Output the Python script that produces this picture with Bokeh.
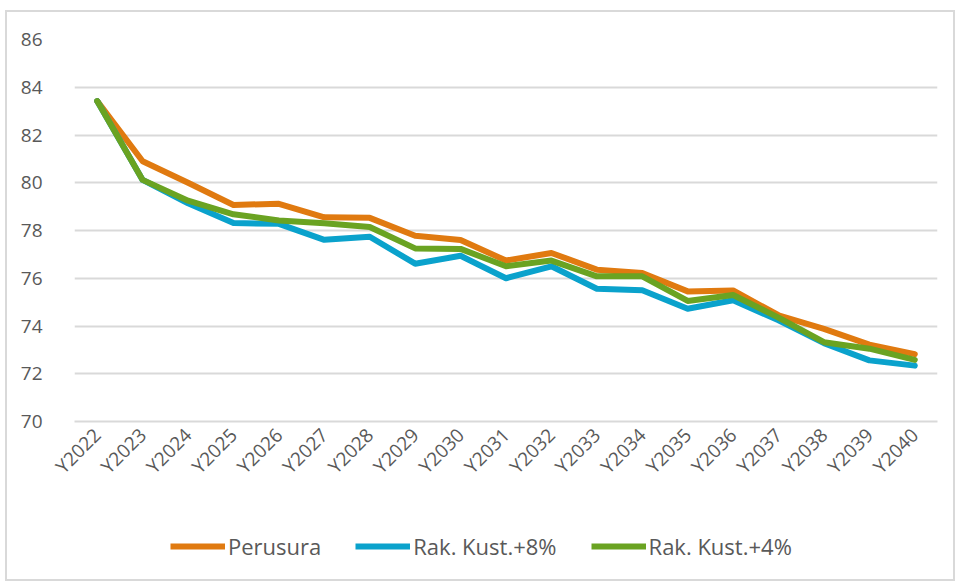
from bokeh.plotting import figure
from bokeh.layouts import column
from bokeh.models import ColumnDataSource, Legend, LegendItem, FixedTicker, Range1d
from bokeh.embed import file_html
from bokeh.resources import INLINE
import math

years = ["Y2022", "Y2023", "Y2024", "Y2025", "Y2026", "Y2027", "Y2028", "Y2029", "Y2030", "Y2031",
         "Y2032", "Y2033", "Y2034", "Y2035", "Y2036", "Y2037", "Y2038", "Y2039", "Y2040"]
perusura = [83.42, 80.90, 80.00, 79.07, 79.12, 78.55, 78.53, 77.78, 77.60, 76.74,
            77.06, 76.36, 76.22, 75.45, 75.49, 74.45, 73.88, 73.22, 72.82]
rak8 = [83.42, 80.12, 79.14, 78.31, 78.28, 77.61, 77.74, 76.61, 76.94, 76.00,
        76.50, 75.56, 75.50, 74.72, 75.08, 74.24, 73.28, 72.56, 72.34]
rak4 = [83.42, 80.12, 79.25, 78.68, 78.42, 78.30, 78.15, 77.25, 77.23, 76.50,
        76.74, 76.08, 76.08, 75.05, 75.30, 74.35, 73.32, 73.05, 72.58]
series_names = ["Perusura", "Rak. Kust.+8%", "Rak. Kust.+4%"]
y_ticks = [70, 72, 74, 76, 78, 80, 82, 84, 86]

colors = ["#E07A10", "#0AA2CC", "#6AA322"]
FONT = "Open Sans"
GRAY = "#595959"
LW = 6

src = ColumnDataSource(dict(x=years, a=perusura, b=rak8, c=rak4))

p = figure(width=946, height=480, x_range=years, y_range=Range1d(70, 86),
           output_backend="svg", toolbar_location=None,
           min_border_left=67, min_border_right=16, min_border_top=27, min_border_bottom=71)
p.outline_line_color = None
p.border_fill_color = "white"
p.background_fill_color = "white"

for col, c in zip(["a", "b", "c"], colors):
    p.line("x", col, source=src, line_color=c, line_width=LW, line_join="round", line_cap="round")

p.yaxis.ticker = FixedTicker(ticks=y_ticks)
p.yaxis.axis_line_color = None
p.yaxis.major_tick_line_color = None
p.yaxis.minor_tick_line_color = None
p.yaxis.major_label_text_font = FONT
p.yaxis.major_label_text_font_size = "19px"
p.yaxis.major_label_text_color = GRAY
p.yaxis.major_label_standoff = 26

p.xaxis.axis_line_color = "#d9d9d9"
p.xaxis.axis_line_width = 2
p.xaxis.major_tick_line_color = None
p.xaxis.minor_tick_line_color = None
p.xaxis.major_label_orientation = math.pi / 4
p.xaxis.major_label_text_font = FONT
p.xaxis.major_label_text_font_size = "19px"
p.xaxis.major_label_text_color = GRAY
p.xaxis.major_label_standoff = 4

p.xgrid.grid_line_color = None
p.ygrid.grid_line_color = "#d9d9d9"
p.ygrid.grid_line_width = 2

# legend strip below the chart: same series, kept out of view, used only as legend keys
lg = figure(width=946, height=87, x_range=years, y_range=Range1d(100, 101),
            output_backend="svg", toolbar_location=None,
            x_axis_location=None, y_axis_location=None,
            min_border_left=0, min_border_right=0, min_border_top=0, min_border_bottom=0)
lg.grid.visible = False
lg.outline_line_color = None
lg.border_fill_color = "white"
key_renderers = [lg.line("x", col, source=src, line_color=c, line_width=LW)
                 for col, c in zip(["a", "b", "c"], colors)]
items = [LegendItem(label=n, renderers=[r]) for n, r in zip(series_names, key_renderers)]
legend = Legend(items=items, orientation="horizontal", location=(96, 18),
                label_text_font=FONT, label_text_font_size="22px", label_text_color=GRAY,
                glyph_width=55, glyph_height=22, label_standoff=3, spacing=34,
                border_line_color=None, background_fill_alpha=0, margin=0, padding=0)
lg.add_layout(legend, "center")

layout = column(p, lg, spacing=0)
layout.margin = (10, 0, 0, 5)
layout.styles = {"border": "2px solid #d9d9d9", "background-color": "white"}

open("out.html", "w").write(file_html(layout, INLINE))
